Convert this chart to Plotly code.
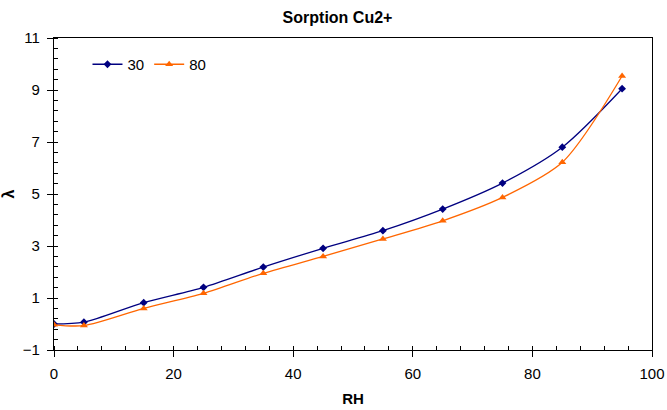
import plotly.graph_objects as go

rh = [0, 5, 15, 25, 35, 45, 55, 65, 75, 85, 95]
lambda_30 = [0.0, 0.07, 0.82, 1.41, 2.19, 2.91, 3.59, 4.42, 5.42, 6.80, 9.05]
lambda_80 = [-0.03, -0.06, 0.60, 1.18, 1.95, 2.60, 3.27, 3.97, 4.87, 6.22, 9.54]
series_names = ["30", "80"]

x_ticks = [0, 20, 40, 60, 80, 100]
y_ticks = [-1, 1, 3, 5, 7, 9, 11]

NAVY = "#000080"
ORANGE = "#FF6600"
FONT = "Liberation Sans, Arial, sans-serif"

fig = go.Figure()
fig.add_trace(go.Scatter(
    x=rh, y=lambda_30, name=series_names[0], mode="lines+markers",
    line=dict(color=NAVY, width=1.3, shape="spline", smoothing=0.8),
    marker=dict(symbol="diamond", size=6, color=NAVY),
))
fig.add_trace(go.Scatter(
    x=rh, y=lambda_80, name=series_names[1], mode="lines+markers",
    line=dict(color=ORANGE, width=1.3, shape="spline", smoothing=0.8),
    marker=dict(symbol="triangle-up", size=7, color=ORANGE),
))

axis_common = dict(
    showgrid=False, zeroline=False, showline=True, linecolor="black",
    linewidth=1.2, mirror=True, ticks="outside", ticklen=6, tickwidth=1,
    tickcolor="black", tickfont=dict(family=FONT, size=15, color="black"),
    automargin=True,
)

fig.update_layout(
    width=667, height=410,
    margin=dict(l=54, r=15, t=38, b=60, autoexpand=False),
    paper_bgcolor="white", plot_bgcolor="white",
    title=dict(text="<b>Sorption Cu2+</b>", xref="container", x=0.506,
               xanchor="center", yref="container", y=1 - 17.5 / 410,
               yanchor="middle",
               font=dict(family=FONT, size=16, color="black")),
    xaxis=dict(range=[0, 100], tickvals=x_ticks, **axis_common,
               ticklabelstandoff=4,
               minor=dict(ticks="inside", dtick=4, ticklen=4, tickcolor="black"),
               title=dict(text="<b>RH</b>", standoff=12,
                          font=dict(family=FONT, size=15, color="black"))),
    yaxis=dict(range=[-1, 11], tickvals=y_ticks, **axis_common,
               ticklabelstandoff=4,
               minor=dict(ticks="inside", dtick=0.4, tick0=-1, ticklen=4, tickcolor="black"),
               title=dict(text="<b>λ</b>", standoff=6,
                          font=dict(family=FONT, size=16, color="black"))),
    xaxis2=dict(range=[0, 100], tickvals=x_ticks, overlaying="x", side="bottom",
                anchor="y", showticklabels=False, showgrid=False, zeroline=False,
                ticks="inside", ticklen=4, tickcolor="black", showline=False),
    yaxis2=dict(range=[-1, 11], tickvals=y_ticks, overlaying="y", side="left",
                anchor="x", showticklabels=False, showgrid=False, zeroline=False,
                ticks="inside", ticklen=4, tickcolor="black", showline=False),
    legend=dict(orientation="h", x=0.056, y=0.915, xanchor="left", yanchor="middle",
                bgcolor="rgba(0,0,0,0)", font=dict(family=FONT, size=15, color="black"),
                itemwidth=30, tracegroupgap=0),
    showlegend=True,
)

fig.write_html("out.html")
